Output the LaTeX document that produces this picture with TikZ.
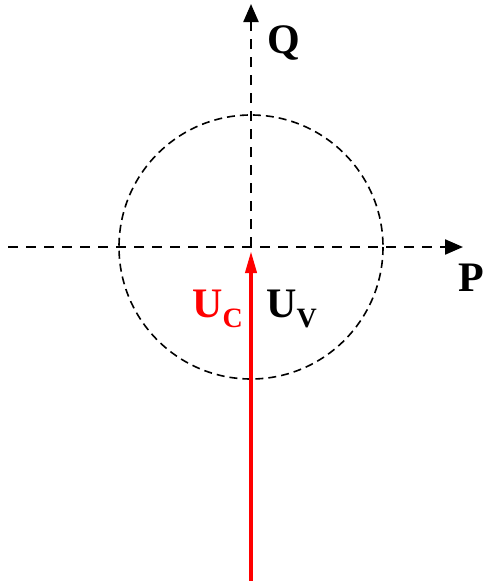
\documentclass[tikz,border=0pt]{standalone}
\usepackage{fontspec}
\setmainfont{Liberation Serif}
\usetikzlibrary{arrows.meta}
\tikzset{
  axis/.style={line width=2.2pt, dash pattern=on 10pt off 8pt, -{Triangle[length=18pt,width=15pt]}},
  circ/.style={line width=1.6pt, dash pattern=on 8pt off 5pt},
  vec/.style={red, line width=3.8pt, -{Triangle[length=22pt,width=11pt]}},
  lbl/.style={inner sep=0pt, anchor=base west, font=\fontsize{42}{46}\selectfont\bfseries},
}
\newcommand{\subtxt}[1]{\raisebox{-10pt}{\fontsize{28}{30}\selectfont\bfseries #1}}
\begin{document}
\begin{tikzpicture}[x=1pt,y=-1pt]
\useasboundingbox (0,0) rectangle (487,581);
\coordinate (O) at (251,247);
\coordinate (L) at (8,247);
\coordinate (R) at (463,247);
\coordinate (T) at (251,4);
\coordinate (B) at (251,581);
\coordinate (Otip) at (251,251);
\draw[circ] (O) circle[radius=132];
\draw[axis] (L) -- (R);
\draw[axis] (O) -- (T);
\draw[vec] (B) -- (Otip);
\node[lbl] (q) at (267,53) {Q};
\node[lbl] (p) at (458,291) {P};
\node[lbl, red] (uc) at (192,317) {U\subtxt{C}};
\node[lbl] (uv) at (266,317) {U\subtxt{V}};
\end{tikzpicture}
\end{document}
